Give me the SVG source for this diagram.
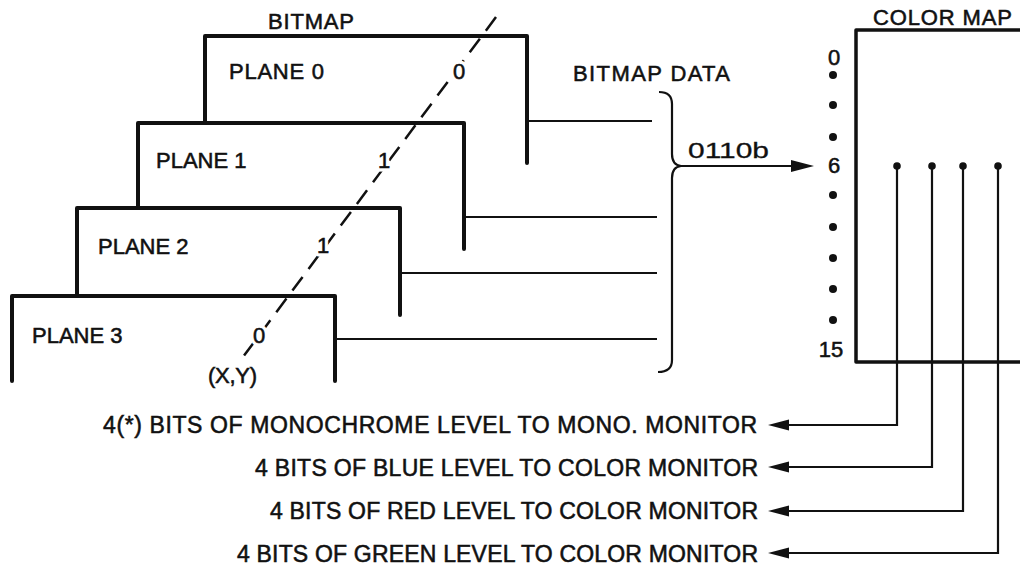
<svg xmlns="http://www.w3.org/2000/svg" width="1020" height="567" viewBox="0 0 1020 567">
<style>
text{font-family:"Liberation Sans",Arial,Helvetica,sans-serif;fill:#111;stroke:#111;stroke-width:0.55px;}
.lbl{font-size:22px;}
.big{font-size:23px;}
.halo{fill:#fff;stroke:#fff;stroke-width:7px;stroke-linejoin:round;}
.plane{fill:none;stroke:#111;stroke-width:4;stroke-linejoin:round;stroke-linecap:round;}
.box{fill:none;stroke:#111;stroke-width:3.5;stroke-linejoin:round;stroke-linecap:round;}
.wire{fill:none;stroke:#111;stroke-width:2.2;}
.dash{fill:none;stroke:#111;stroke-width:2.5;stroke-dasharray:17 10;}
</style>
<defs>
<marker id="ah" markerUnits="userSpaceOnUse" markerWidth="24" markerHeight="14" refX="11" refY="6" orient="auto">
<path d="M0,0.5 L21,6 L0,11.5 z" fill="#111"/>
</marker>
<marker id="ah2" markerUnits="userSpaceOnUse" markerWidth="26" markerHeight="14" refX="12" refY="6.5" orient="auto">
<path d="M0,0.5 L23,6.5 L0,12.5 z" fill="#111"/>
</marker>
</defs>
<rect width="1020" height="567" fill="#fff"/>

<g id="bitmap-title"><text class="lbl" x="268" y="29" textLength="86" lengthAdjust="spacing">BITMAP</text></g>

<g id="plane0">
<path class="plane" d="M205,122 V36 H527 V163"/>
<text class="lbl" x="229" y="79" textLength="95" lengthAdjust="spacing">PLANE 0</text>
</g>
<g id="plane1">
<path class="plane" d="M138,207 V123 H464 V249"/>
<text class="lbl" x="156" y="168">PLANE 1</text>
</g>
<g id="plane2">
<path class="plane" d="M77,295 V208 H400 V315"/>
<text class="lbl" x="98" y="254">PLANE 2</text>
</g>
<g id="plane3">
<path class="plane" d="M12,381 V296 H335 V381"/>
<text class="lbl" x="32" y="343">PLANE 3</text>
</g>

<g id="pixel-line">
<path class="dash" d="M496,17 L240,361"/>
<text class="lbl halo" x="459" y="79" text-anchor="middle">0</text>
<text class="lbl halo" x="384" y="168" text-anchor="middle">1</text>
<text class="lbl halo" x="323" y="253" text-anchor="middle">1</text>
<text class="lbl halo" x="259" y="343" text-anchor="middle">0</text>
<text class="lbl" x="459" y="79" text-anchor="middle">0</text>
<text class="lbl" x="384" y="168" text-anchor="middle">1</text>
<text class="lbl" x="323" y="253" text-anchor="middle">1</text>
<text class="lbl" x="259" y="343" text-anchor="middle">0</text>
<text class="lbl" x="208" y="383" textLength="49" lengthAdjust="spacing">(X,Y)</text>
</g>

<g id="bitmap-data"><text class="lbl" x="573" y="81" textLength="157" lengthAdjust="spacing">BITMAP DATA</text></g>

<g id="color-map">
<text class="lbl" x="873" y="25" textLength="139" lengthAdjust="spacing">COLOR MAP</text>
<path class="box" d="M1022,30 H856 V362 H1022"/>
<text class="lbl" x="834" y="65" text-anchor="middle">0</text>
<text class="lbl" x="834" y="173" text-anchor="middle">6</text>
<text class="lbl" x="831" y="357" text-anchor="middle">15</text>
<g fill="#111">
<circle cx="833" cy="75" r="4"/>
<circle cx="833" cy="105" r="4"/>
<circle cx="833" cy="137" r="4"/>
<circle cx="833" cy="195" r="4"/>
<circle cx="833" cy="227" r="4"/>
<circle cx="833" cy="258" r="4"/>
<circle cx="833" cy="289" r="4"/>
<circle cx="833" cy="320" r="4"/>
</g>
</g>

<g id="outputs">
<text class="big" x="757" y="433" text-anchor="end" textLength="654" lengthAdjust="spacing">4(*) BITS OF MONOCHROME LEVEL TO MONO. MONITOR</text>
<text class="big" x="758" y="476" text-anchor="end" textLength="503" lengthAdjust="spacing">4 BITS OF BLUE LEVEL TO COLOR MONITOR</text>
<text class="big" x="758" y="519" text-anchor="end" textLength="488" lengthAdjust="spacing">4 BITS OF RED LEVEL TO COLOR MONITOR</text>
<text class="big" x="758" y="562" text-anchor="end" textLength="521" lengthAdjust="spacing">4 BITS OF GREEN LEVEL TO COLOR MONITOR</text>
</g>

<g id="connectors">
<path class="wire" d="M527,121 H652"/>
<path class="wire" d="M464,217 H657"/>
<path class="wire" d="M400,273 H657"/>
<path class="wire" d="M335,339 H657"/>
<path class="wire" stroke-width="2.6" d="M659,92 Q672,92 672,104 V154 Q672,165 681,166 Q672,167 672,178 V360 Q672,372 658,372"/>
<path class="wire" d="M681,166 H803" marker-end="url(#ah2)"/>
<text class="lbl" x="688" y="158" textLength="81" lengthAdjust="spacingAndGlyphs" style="stroke-width:0.3px">0110b</text>
<g fill="#111">
<circle cx="897" cy="166" r="3.8"/>
<circle cx="932" cy="166" r="3.8"/>
<circle cx="963" cy="166" r="3.8"/>
<circle cx="998" cy="166" r="3.8"/>
</g>
<path class="wire" d="M897,166 V425 H778" marker-end="url(#ah)"/>
<path class="wire" d="M932,166 V467 H778" marker-end="url(#ah)"/>
<path class="wire" d="M963,166 V511 H778" marker-end="url(#ah)"/>
<path class="wire" d="M998,166 V553 H778" marker-end="url(#ah)"/>
</g>
</svg>
